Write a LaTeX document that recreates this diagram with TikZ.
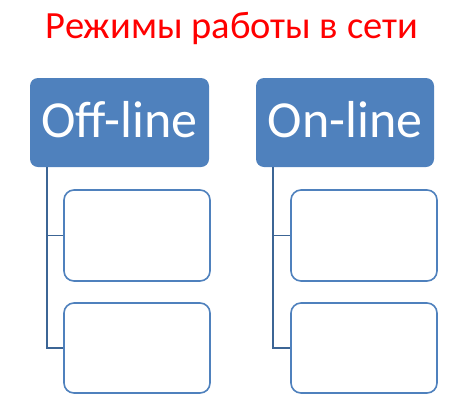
\documentclass[tikz,border=0pt]{standalone}
\usepackage{fontspec}
\setmainfont{Carlito}
\definecolor{hdrblue}{HTML}{4F81BD}
\definecolor{linkblue}{HTML}{3C6595}
\begin{document}
\begin{tikzpicture}[x=1pt,y=-1pt,
  header/.style={fill=hdrblue, rounded corners=8pt},
  hdrtext/.style={text=white, font=\fontsize{52}{52}\selectfont, anchor=base},
  item/.style={draw=hdrblue, line width=1.6pt, fill=white, rounded corners=10pt},
  link/.style={draw=linkblue, line width=1.8pt}]
\useasboundingbox (0,0) rectangle (470,402);
\node[text=red, font=\fontsize{38.5}{38.5}\selectfont, anchor=base] (title) at (232,38) {Режимы работы в сети};

% Off-line column
\fill[header] (30,78) rectangle (209,167);
\node[hdrtext] (offtxt) at (119.5,137) {Off-line};
\coordinate (off) at (47,167);
\coordinate (offJ) at (47,235.5);
\draw[link] (off) |- (64,348) coordinate (offB);
\draw[link] (offJ) -- (64,235.5) coordinate (offA);
\draw[item] (64,190) rectangle (210,281);
\draw[item] (64,303) rectangle (210,393);

% On-line column
\fill[header] (256,78) rectangle (434,167);
\node[hdrtext] (ontxt) at (345,137) {On-line};
\coordinate (on) at (273,167);
\coordinate (onJ) at (273,235.5);
\draw[link] (on) |- (291,348) coordinate (onB);
\draw[link] (onJ) -- (291,235.5) coordinate (onA);
\draw[item] (291,190) rectangle (437,281);
\draw[item] (291,303) rectangle (437,393);
\end{tikzpicture}
\end{document}
